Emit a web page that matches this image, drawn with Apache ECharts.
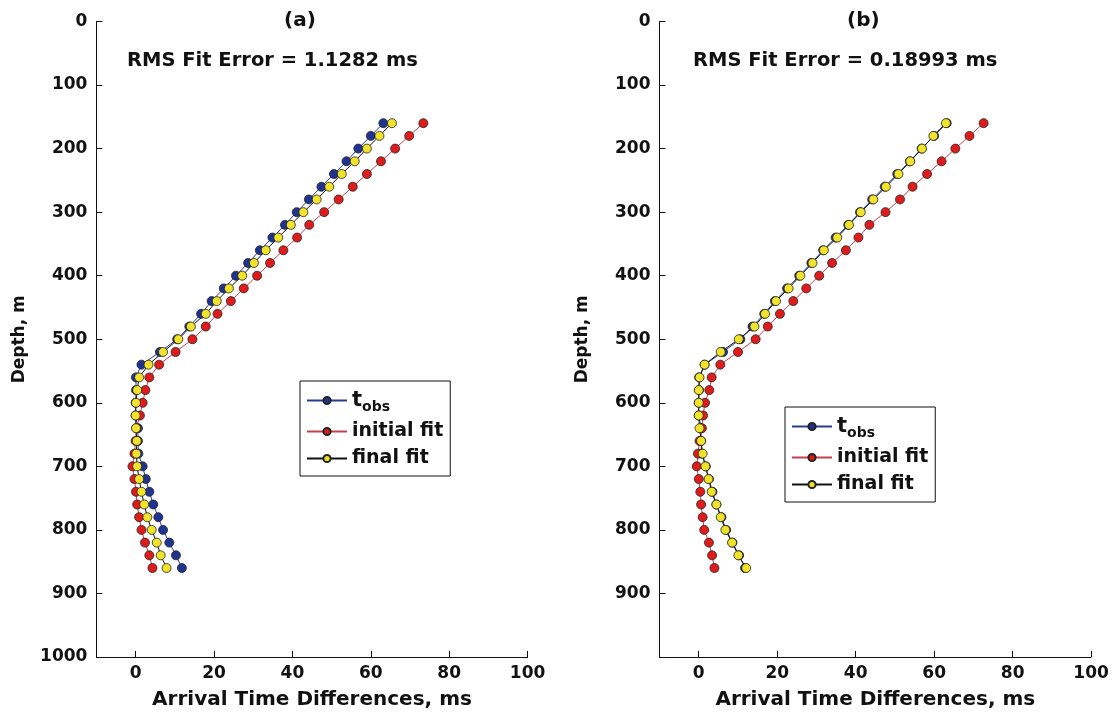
<!DOCTYPE html>
<html>
<head>
<meta charset="utf-8">
<script src="https://cdn.jsdelivr.net/npm/echarts@6/dist/echarts.min.js"></script>
<style>
html,body{margin:0;padding:0;background:#fff;}
#c{width:1117px;height:713px;}
</style>
</head>
<body>
<div id="c"></div>
<script>
// Depths (m)
const depth = [160,180,200,220,240,260,280,300,320,340,360,380,400,420,440,460,480,500,520,540,560,580,600,620,640,660,680,700,720,740,760,780,800,820,840,860];
// Observed arrival time differences (ms)
const tobs = [63.2,60.0,56.8,53.8,50.6,47.4,44.2,41.1,38.1,34.9,31.7,28.7,25.6,22.5,19.4,16.7,13.7,10.6,6.2,1.5,0.1,0.1,0.0,0.0,0.6,0.6,0.7,1.8,2.6,3.5,4.5,5.8,7.0,8.6,10.3,11.8];
// Panel (a)
const initA = [73.4,69.8,66.2,62.6,59.0,55.4,51.8,48.1,44.3,41.2,37.7,34.3,31.0,27.6,24.3,20.9,17.9,14.5,10.2,6.0,3.5,2.5,1.8,1.1,0.2,0.0,-0.3,-0.8,-0.3,0.1,0.4,0.9,1.5,2.4,3.5,4.3];
const finalA = [65.4,62.2,59.0,55.9,52.6,49.4,46.2,42.8,39.6,36.4,33.2,30.2,27.2,23.8,20.7,17.9,14.1,10.9,7.0,3.3,0.9,0.4,0.1,0.0,0.1,0.3,0.2,0.4,0.9,1.5,2.2,3.0,4.1,5.4,6.4,7.9];
// Panel (b)
const initB = [72.6,69.0,65.4,61.9,58.2,54.5,51.3,47.6,43.5,40.7,37.5,34.0,30.7,27.4,24.1,20.7,17.6,14.5,10.0,5.5,3.3,2.7,1.6,1.1,0.8,0.2,-0.2,-0.5,0.0,0.4,0.6,1.0,1.4,2.6,3.4,4.0];
const finalB = [63.0,59.8,56.9,53.9,50.9,47.7,44.5,41.3,38.3,35.3,31.9,29.0,25.9,22.9,19.7,16.9,14.2,10.2,5.6,1.5,0.2,0.0,0.0,0.0,0.2,0.6,1.0,1.7,2.5,3.3,4.5,5.6,6.8,8.5,10.1,12.1];
const xTicks = [0,20,40,60,80,100];
const panelTitles = ['(a)','(b)'];
const rmsTexts = ['RMS Fit Error = 1.1282 ms','RMS Fit Error = 0.18993 ms'];
const seriesNames = ['t_obs','initial fit','final fit'];

const FONT = '"DejaVu Sans", "Liberation Sans", Arial, sans-serif';
const pts = arr => arr.map((v,i)=>[v, depth[i]]);

const styles = {
  't_obs': {line:'#2a3a90', fill:'#1f3391'},
  'initial fit': {line:'#c84050', fill:'#e01b1b'},
  'final fit': {line:'#111111', fill:'#f1e32a'}
};

function mkSeries(name, data, idx){
  return {
    type:'line', name:name, data:pts(data), xAxisIndex:idx, yAxisIndex:idx,
    symbol:'circle', symbolSize:9, showSymbol:true, animation:false,
    lineStyle:{color:styles[name].line, width:1},
    itemStyle:{color:styles[name].fill, borderColor:'#222', borderWidth:0.8},
    emphasis:{disabled:true}
  };
}

const grids = [
  {left:96.4, top:21.5, width:431.2, height:635.5, containLabel:false, outerBoundsMode:'none'},
  {left:659.5, top:21.5, width:431.6, height:635.5, containLabel:false, outerBoundsMode:'none'}
];

function xAxis(i){
  return {
    type:'value', gridIndex:i, min:-10, max:100,
    name:'Arrival Time Differences, ms', nameLocation:'middle', nameGap:33,
    nameTextStyle:{fontFamily:FONT, fontWeight:'bold', fontSize:20, color:'#111'},
    axisLine:{show:true, onZero:false, lineStyle:{color:'#111', width:1}},
    axisTick:{show:true, inside:true, length:6, customValues:xTicks, lineStyle:{color:'#111'}},
    axisLabel:{customValues:xTicks, fontFamily:FONT, fontWeight:'bold', fontSize:17, color:'#111', margin:8},
    splitLine:{show:false}
  };
}
function yAxis(i){
  return {
    type:'value', gridIndex:i, min:0, max:1000, interval:100, inverse:true,
    name:'Depth, m', nameLocation:'middle', nameGap:68, nameRotate:90,
    nameTextStyle:{fontFamily:FONT, fontWeight:'bold', fontSize:17, color:'#111'},
    axisLine:{show:true, onZero:false, lineStyle:{color:'#111', width:1}},
    axisTick:{show:true, inside:true, length:6, lineStyle:{color:'#111'}},
    axisLabel:{fontFamily:FONT, fontWeight:'bold', fontSize:17, color:'#111', margin:9,
      formatter: v => (i===1 && v===1000) ? '' : String(v)},
    splitLine:{show:false}
  };
}

function legend(left, top){
  return {
    data:seriesNames, orient:'vertical', left:left, top:top, selectedMode:false,
    backgroundColor:'#fff', borderColor:'#111', borderWidth:1, padding:[9,7,8,6],
    itemWidth:40, itemHeight:9, itemGap:8,
    formatter: n => n==='t_obs' ? '{t|t}{s|obs}' : n,
    textStyle:{fontFamily:FONT, fontWeight:'bold', fontSize:19, color:'#111',
      rich:{
        t:{fontFamily:FONT, fontWeight:'bold', fontSize:21, color:'#111'},
        s:{fontFamily:FONT, fontWeight:'bold', fontSize:14, color:'#111', padding:[13,0,0,0]}
      }}
  };
}

const option = {
  backgroundColor:'#fff',
  animation:false,
  title:[
    {text:panelTitles[0], left:279, top:6, textStyle:{fontFamily:FONT, fontWeight:'bold', fontSize:20, color:'#111'}},
    {text:panelTitles[1], left:842, top:6, textStyle:{fontFamily:FONT, fontWeight:'bold', fontSize:20, color:'#111'}},
    {text:rmsTexts[0], left:122, top:46, textStyle:{fontFamily:FONT, fontWeight:'bold', fontSize:19.5, color:'#111'}},
    {text:rmsTexts[1], left:688, top:46, textStyle:{fontFamily:FONT, fontWeight:'bold', fontSize:19.5, color:'#111'}}
  ],
  legend:[legend(300,381), legend(785,407)],
  grid:grids,
  xAxis:[xAxis(0), xAxis(1)],
  yAxis:[yAxis(0), yAxis(1)],
  series:[
    mkSeries('t_obs', tobs, 0),
    mkSeries('initial fit', initA, 0),
    mkSeries('final fit', finalA, 0),
    mkSeries('t_obs', tobs, 1),
    mkSeries('initial fit', initB, 1),
    mkSeries('final fit', finalB, 1)
  ]
};
const chart = echarts.init(document.getElementById('c'), null, {renderer:'canvas'});
chart.setOption(option);
</script>
</body>
</html>
